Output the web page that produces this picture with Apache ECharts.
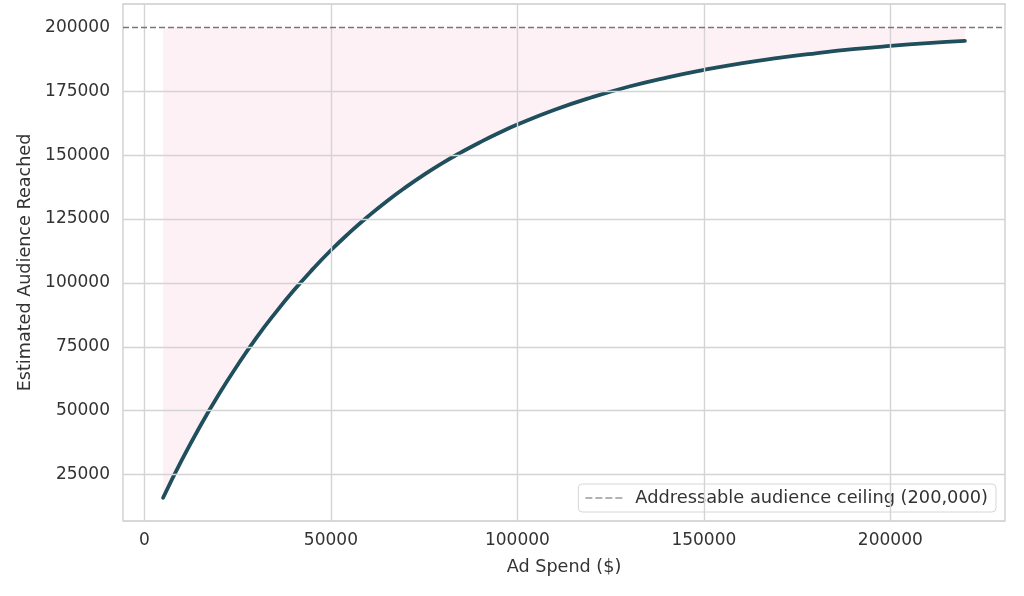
<!DOCTYPE html>
<html>
<head>
<meta charset="utf-8">
<script src="https://cdn.jsdelivr.net/npm/echarts@6/dist/echarts.min.js"></script>
<style>
html,body{margin:0;padding:0;background:#fff;}
#chart{width:1024px;height:596px;}
</style>
</head>
<body>
<div id="chart"></div>
<script>
// ad spend ($) and audience reached
var spend = [5000, 10000, 15000, 20000, 25000, 30000, 35000, 40000, 45000, 50000,
    55000, 60000, 65000, 70000, 75000, 80000, 85000, 90000, 95000, 100000,
    110000, 120000, 130000, 140000, 150000, 160000, 170000, 180000, 190000, 200000,
    210000, 220000];
var reach = [15900, 30600, 44100, 56500, 67900, 78500, 88100, 97000, 105200, 112800,
    119700, 126100, 132000, 137400, 142400, 147000, 151200, 155100, 158700, 162000,
    167800, 172700, 176900, 180400, 183400, 186000, 188100, 189900, 191500, 192800,
    193900, 194800];
var ceiling = 200000;
var xTicks = [0, 50000, 100000, 150000, 200000];
var yTicks = [25000, 50000, 75000, 100000, 125000, 150000, 175000, 200000];

var FONT = 'DejaVu Sans';
var TXT = '#333333';
var GRIDC = '#d4d4d4';

var chart = echarts.init(document.getElementById('chart'));

var pts = [];
for (var i = 0; i < spend.length; i++) {
    pts.push([spend[i], reach[i]]);
}
var vGrid = [];
for (var j = 0; j < xTicks.length; j++) {
    vGrid.push({xAxis: xTicks[j]});
}
var hGrid = [];
for (var k = 0; k < yTicks.length; k++) {
    if (yTicks[k] !== ceiling) hGrid.push({yAxis: yTicks[k]});
}

function plain(v) {
    return String(v);
}

var option = {
    animation: false,
    backgroundColor: '#fff',
    textStyle: {fontFamily: FONT},
    grid: {
        left: 123, right: 19, top: 4, bottom: 75,
        show: true, borderColor: '#cccccc', borderWidth: 1.3
    },
    xAxis: {
        type: 'value',
        min: -5750, max: 230750,
        name: 'Ad Spend ($)',
        nameLocation: 'middle',
        nameGap: 37,
        nameTextStyle: {color: TXT, fontSize: 17.6, fontFamily: FONT},
        axisLine: {show: false},
        axisTick: {show: false},
        splitLine: {show: false},
        axisLabel: {
            customValues: xTicks,
            formatter: plain,
            color: TXT, fontSize: 17, fontFamily: FONT, margin: 11
        }
    },
    yAxis: {
        type: 'value',
        min: 6800, max: 209200,
        name: 'Estimated Audience Reached',
        nameLocation: 'middle',
        nameGap: 86,
        nameTextStyle: {color: TXT, fontSize: 17.6, fontFamily: FONT},
        axisLine: {show: false},
        axisTick: {show: false},
        splitLine: {show: false},
        axisLabel: {
            customValues: yTicks,
            formatter: plain,
            color: TXT, fontSize: 17, fontFamily: FONT, margin: 13
        }
    },
    legend: {
        right: 28, bottom: 84,
        orient: 'vertical',
        backgroundColor: 'rgba(255,255,255,0.85)',
        borderColor: '#d6d6d6', borderWidth: 1, borderRadius: 4,
        padding: [5, 8, 5, 7],
        itemWidth: 37, itemHeight: 2, itemGap: 6,
        textStyle: {color: TXT, fontSize: 17.8, fontFamily: FONT, padding: [0, 0, 0, 8]},
        data: [{
            name: 'Addressable audience ceiling (200,000)',
            icon: 'path://M0,0h7v1h-7z M10,0h7v1h-7z M20,0h7v1h-7z M30,0h7v1h-7z',
            itemStyle: {color: '#666666'}
        }]
    },
    series: [
        {
            // grid lines drawn through the scales
            type: 'line', data: [], silent: true, z: 1,
            markLine: {
                symbol: 'none', silent: true, animation: false,
                label: {show: false},
                lineStyle: {color: GRIDC, width: 1.4, type: 'solid'},
                data: vGrid.concat(hGrid)
            }
        },
        {
            type: 'line',
            name: 'reach',
            data: pts,
            showSymbol: false,
            smooth: true,
            z: 3,
            lineStyle: {color: '#1f4e5c', width: 3.8, cap: 'round', join: 'round'},
            areaStyle: {origin: ceiling, color: 'rgba(233,30,99,0.09)'}
        },
        {
            type: 'line',
            name: 'Addressable audience ceiling (200,000)',
            data: [],
            z: 4,
            itemStyle: {color: '#666666'},
            lineStyle: {color: '#666666', type: 'dashed'},
            markLine: {
                symbol: 'none', silent: true, animation: false,
                label: {show: false},
                lineStyle: {color: '#777777', width: 1.3, type: [6, 3]},
                data: [{yAxis: ceiling}]
            }
        }
    ]
};
chart.setOption(option);
</script>
</body>
</html>
